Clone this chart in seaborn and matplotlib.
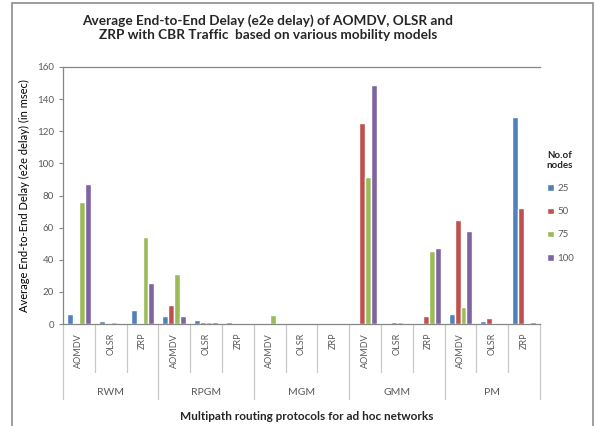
import matplotlib
matplotlib.use("Agg")
import matplotlib.pyplot as plt
import seaborn as sns
import pandas as pd
from matplotlib.patches import Rectangle

groups = ["RWM", "RPGM", "MGM", "GMM", "PM"]
protocols = ["AOMDV", "OLSR", "ZRP"]
node_counts = ["25", "50", "75", "100"]

# values per (group, protocol) in order RWM-AOMDV, RWM-OLSR, RWM-ZRP, RPGM-..., PM-ZRP
v25 = [6.5, 2, 9, 5, 2.5, 1, 0, 0, 0, 0, 0, 0, 6.5, 2, 129]
v50 = [0, 0, 0, 12, 1, 0, 0, 0, 0, 125, 1.5, 5, 64.5, 3.5, 72.5]
v75 = [76, 1, 54, 31, 1, 0, 5.5, 0, 0, 91.5, 1.5, 45.5, 10.5, 0, 0]
v100 = [87, 0, 25.5, 5, 1, 0, 0, 0, 0, 149, 0, 47.5, 58, 0, 1.5]

colors = ["#4F81BD", "#C0504D", "#9BBB59", "#8064A2"]

cats = [f"{g}-{p}" for g in groups for p in protocols]
rows = []
for n, vals in zip(node_counts, [v25, v50, v75, v100]):
    for c, v in zip(cats, vals):
        rows.append({"cat": c, "nodes": n, "delay": v})
df = pd.DataFrame(rows)

sns.set_style("white")
plt.rcParams["font.family"] = ["Lato", "DejaVu Sans"]

fig = plt.figure(figsize=(5.97, 4.26), dpi=100)
ax = fig.add_axes([63/597, 1-324/426, (540-63)/597, (324-67)/426])

sns.barplot(data=df, x="cat", y="delay", hue="nodes", order=cats,
            hue_order=node_counts, palette=colors, width=0.75,
            saturation=1, ax=ax, legend=True)

ax.set_ylim(0, 160)
ax.set_xlim(-0.5, len(cats) - 0.5)
ax.set_yticks(range(0, 161, 20))
ax.tick_params(axis="y", labelsize=7, colors="#595959", length=3, width=0.8, direction="out", left=True)
ax.tick_params(axis="y", color="#868686")
ax.set_xticks([])
ax.set_xlabel("")
ax.set_ylabel("Average End-to-End Delay (e2e delay) (in msec)", fontsize=8, color="black", labelpad=5)

for s in ["left", "bottom", "top"]:
    ax.spines[s].set_color("#868686")
    ax.spines[s].set_linewidth(0.9)
ax.spines["right"].set_visible(False)

tr = ax.get_xaxis_transform()
for i in range(len(cats) + 1):
    bottom = -0.292 if i % 3 == 0 else -0.187
    ax.plot([i - 0.5, i - 0.5], [0, bottom], transform=tr, color="#c8c8c8",
            lw=0.9, clip_on=False)
for i, c in enumerate(cats):
    ax.text(i, -0.035, c.split("-")[1], transform=tr, rotation=90, ha="center",
            va="top", fontsize=6.5, color="#595959")
for j, g in enumerate(groups):
    ax.text(3 * j + 1, -0.265, g, transform=tr, ha="center", va="center",
            fontsize=7.5, color="#595959")

fig.text(307/597, 1-416/426, "Multipath routing protocols for ad hoc networks",
         ha="center", va="center", fontsize=8.5, fontweight="bold")
fig.text(268/597, 1-28/426,
         "Average End-to-End Delay (e2e delay) of AOMDV, OLSR and\nZRP with CBR Traffic  based on various mobility models",
         ha="center", va="center", fontsize=9.8, fontweight="bold", linespacing=1.2)

handles, labels = ax.get_legend_handles_labels()
ax.get_legend().remove()
leg = fig.legend(handles, labels, title="No.of\nnodes", loc="upper left",
                 bbox_to_anchor=(538/597, 1-142/426), frameon=False,
                 fontsize=7, title_fontsize=7, handlelength=0.7,
                 handleheight=0.7, handletextpad=0.4, labelspacing=1.45,
                 alignment="left")
leg.get_title().set_fontweight("bold")
for t in leg.get_texts():
    t.set_color("#595959")

fig.add_artist(Rectangle((12/597, -0.01), (593-12)/597, 1-3/426 + 0.01,
                         transform=fig.transFigure, fill=False,
                         edgecolor="#8c8c8c", lw=1.2))

fig.savefig("out.png", dpi=100)
